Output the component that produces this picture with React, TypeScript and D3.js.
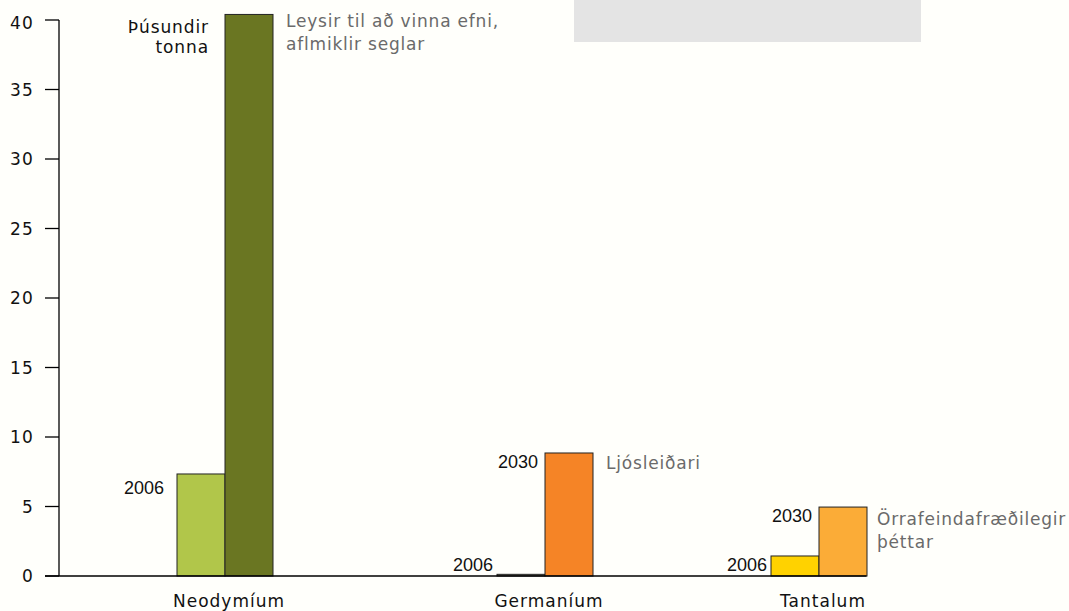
import React from "react";
import * as d3 from "d3";

const categories = ["Neodymíum", "Germaníum", "Tantalum"];
const values2006 = [7.34, 0.12, 1.44];
const values2030 = [40.4, 8.85, 4.96];
const colors2006 = ["#b1c64a", "#8c8c70", "#ffd200"];
const colors2030 = ["#6a7622", "#f58426", "#fbac37"];
const yTicks = [0, 5, 10, 15, 20, 25, 30, 35, 40];
const useLabels: string[][] = [
  ["Leysir til að vinna efni,", "aflmiklir seglar"],
  ["Ljósleiðari"],
  ["Örrafeindafræðilegir", "þéttar"],
];
const show2030Label = [false, true, true];
const unitLabel = ["Þúsundir", "tonna"];

const W = 1069;
const H = 611;
const barW = 48;

export default function App() {
  const y = d3.scaleLinear().domain([0, 40]).range([576, 20]);
  const xCenter = d3.scaleOrdinal<string, number>().domain(categories).range([225, 545, 819]);
  const axisX = 59;
  const verdana = "Verdana, 'DejaVu Sans', sans-serif";
  const arial = "Arial, 'Liberation Sans', sans-serif";
  const useOffset = [13, 16, 18];

  return (
    <svg
      width={W}
      height={H}
      style={{ position: "fixed", left: 0, top: 0, background: "#fffffb" }}
    >
      <rect x={0} y={0} width={W} height={H} fill="#fffffb" />
      <rect x={574} y={0} width={347} height={42} fill="#e4e4e4" />

      {/* y axis */}
      <line x1={axisX} x2={axisX} y1={y(40)} y2={y(0)} stroke="#000" strokeWidth={1.3} />
      {yTicks.map((t) => (
        <g key={t}>
          <line x1={45} x2={axisX} y1={y(t)} y2={y(t)} stroke="#000" strokeWidth={1.3} />
          <text
            x={34}
            y={y(t) + (t === 40 ? 3 : 0)}
            dy="0.36em"
            textAnchor="end"
            fontFamily={verdana}
            fontSize={17}
            letterSpacing={1.2}
            fill="#111"
          >
            {t}
          </text>
        </g>
      ))}

      {/* bars */}
      {categories.map((c, i) => {
        const cx = xCenter(c);
        const small = values2006[i] < 3;
        return (
          <g key={c}>
            <rect
              x={cx - barW}
              y={y(values2006[i])}
              width={barW}
              height={y(0) - y(values2006[i])}
              fill={colors2006[i]}
              stroke="#222"
              strokeWidth={1}
            />
            <rect
              x={cx}
              y={y(values2030[i])}
              width={barW}
              height={y(0) - y(values2030[i])}
              fill={colors2030[i]}
              stroke="#222"
              strokeWidth={1}
            />
            <text
              x={cx - barW - (small ? 4 : 13)}
              y={Math.min(y(values2006[i]) + 20, 571)}
              textAnchor="end"
              fontFamily={arial}
              fontSize={18}
              fill="#111"
            >
              2006
            </text>
            {show2030Label[i] && (
              <text
                x={cx - 7}
                y={y(values2030[i]) + 15}
                textAnchor="end"
                fontFamily={arial}
                fontSize={18}
                fill="#111"
              >
                2030
              </text>
            )}
            {useLabels[i].map((line, j) => (
              <text
                key={j}
                x={cx + barW + 13 + (i === 2 ? -3 : 0)}
                y={y(values2030[i]) + useOffset[i] + j * 23}
                fontFamily={verdana}
                fontSize={17}
                letterSpacing={0.8}
                fill="#6a6a6a"
              >
                {line}
              </text>
            ))}
            <text
              x={cx + 4}
              y={607}
              textAnchor="middle"
              fontFamily={verdana}
              fontSize={17}
              letterSpacing={1}
              fill="#111"
            >
              {c}
            </text>
          </g>
        );
      })}

      {/* baseline */}
      <line x1={45} x2={866.5} y1={y(0)} y2={y(0)} stroke="#000" strokeWidth={1.3} />

      {/* unit label */}
      {unitLabel.map((l, j) => (
        <text
          key={l}
          x={209}
          y={33 + j * 20}
          textAnchor="end"
          fontFamily={verdana}
          fontSize={17}
          letterSpacing={0.9}
          fill="#111"
        >
          {l}
        </text>
      ))}
    </svg>
  );
}
